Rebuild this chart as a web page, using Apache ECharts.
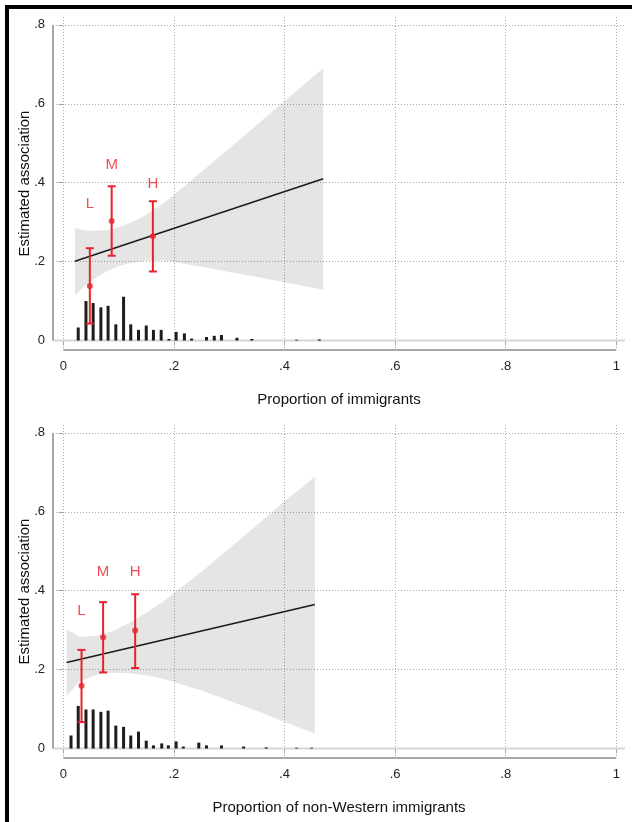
<!DOCTYPE html>
<html>
<head>
<meta charset="utf-8">
<script src="https://cdn.jsdelivr.net/npm/echarts@6/dist/echarts.min.js"></script>
<style>
  html, body { margin: 0; padding: 0; background: #fff; }
  #chart { width: 632px; height: 822px; }
  .frame { position: absolute; left: 5px; top: 5px; right: 0; bottom: 0;
           border-left: 4px solid #000; border-top: 4px solid #000; pointer-events: none; }
</style>
</head>
<body>
<div id="chart"></div>
<div class="frame"></div>
<script>
// 刻度
const xTicks = [0, 0.2, 0.4, 0.6, 0.8, 1];
const yTicks = [0, 0.2, 0.4, 0.6, 0.8];
const groupNames = ['L', 'M', 'H'];

// 上图: Proportion of immigrants
const histX1 = [0.027, 0.041, 0.054, 0.068, 0.081, 0.095, 0.109, 0.122, 0.136, 0.150, 0.163, 0.177, 0.191, 0.204, 0.219, 0.232, 0.259, 0.273, 0.286, 0.314, 0.341, 0.422, 0.463];
const histY1 = [0.033, 0.100, 0.095, 0.084, 0.088, 0.041, 0.111, 0.041, 0.027, 0.038, 0.027, 0.027, 0.004, 0.022, 0.018, 0.005, 0.009, 0.012, 0.014, 0.007, 0.004, 0.002, 0.003];
const fitX1 = [0.021, 0.470];
const fitY1 = [0.201, 0.410];
const bandX1 = [0.021, 0.04, 0.06, 0.08, 0.10, 0.12, 0.14, 0.16, 0.18, 0.20, 0.25, 0.30, 0.35, 0.40, 0.47];
const bandLo1 = [0.115, 0.140, 0.160, 0.176, 0.188, 0.196, 0.201, 0.203, 0.202, 0.199, 0.187, 0.174, 0.161, 0.148, 0.129];
const bandHi1 = [0.285, 0.279, 0.278, 0.280, 0.287, 0.298, 0.311, 0.328, 0.347, 0.369, 0.428, 0.487, 0.547, 0.607, 0.691];
const groupX1 = [0.048, 0.0875, 0.162];
const groupEst1 = [0.138, 0.303, 0.264];
const groupLo1 = [0.043, 0.215, 0.175];
const groupHi1 = [0.234, 0.391, 0.353];
const labelY1 = [0.347, 0.446, 0.397];

// 下图: Proportion of non-Western immigrants
const histX2 = [0.014, 0.027, 0.041, 0.054, 0.068, 0.081, 0.095, 0.109, 0.122, 0.136, 0.150, 0.163, 0.178, 0.190, 0.204, 0.217, 0.245, 0.259, 0.286, 0.326, 0.367, 0.422, 0.449];
const histY2 = [0.033, 0.108, 0.099, 0.099, 0.093, 0.096, 0.058, 0.055, 0.033, 0.043, 0.020, 0.008, 0.013, 0.008, 0.018, 0.005, 0.015, 0.008, 0.008, 0.005, 0.003, 0.002, 0.002];
const fitX2 = [0.006, 0.455];
const fitY2 = [0.218, 0.365];
const bandX2 = [0.006, 0.03, 0.06, 0.09, 0.12, 0.15, 0.18, 0.21, 0.25, 0.30, 0.35, 0.40, 0.455];
const bandLo2 = [0.133, 0.170, 0.187, 0.192, 0.191, 0.186, 0.177, 0.164, 0.147, 0.121, 0.095, 0.067, 0.038];
const bandHi2 = [0.302, 0.283, 0.286, 0.298, 0.319, 0.344, 0.372, 0.405, 0.448, 0.507, 0.566, 0.627, 0.689];
const groupX2 = [0.033, 0.072, 0.130];
const groupEst2 = [0.159, 0.282, 0.299];
const groupLo2 = [0.067, 0.193, 0.204];
const groupHi2 = [0.250, 0.371, 0.391];
const labelY2 = [0.348, 0.448, 0.448];

(function () {
  const myChart = echarts.init(document.getElementById('chart'));
  const FONT = '"Liberation Sans", Arial, sans-serif';
  const RED = '#e8222a';
  const X_MIN = -0.0186, X_MAX = 1.0157;
  const Y_MIN = -0.024, Y_MAX = 0.82;

  // 0 -> "0", 0.2 -> ".2", 1 -> "1"
  function fmt(v) {
    const s = String(+(+v).toFixed(2));
    return s.replace(/^0\./, '.');
  }

  function makeX(i, name) {
    return {
      type: 'value', gridIndex: i, min: X_MIN, max: X_MAX,
      name: name, nameLocation: 'middle', nameGap: 42, nameMoveOverlap: false,
      nameTextStyle: { fontSize: 15, color: '#111', fontFamily: FONT },
      axisLine: { show: false },
      axisTick: { show: true, length: 5, customValues: xTicks, lineStyle: { color: '#a6a6a6', width: 1 } },
      axisLabel: { customValues: xTicks, formatter: fmt, fontSize: 13, color: '#222', fontFamily: FONT, margin: 10 },
      splitLine: { show: true, lineStyle: { color: '#a8a8a8', type: [1, 2], width: 1 } }
    };
  }
  function makeY(i) {
    return {
      type: 'value', gridIndex: i, min: Y_MIN, max: Y_MAX,
      name: 'Estimated association', nameLocation: 'middle', nameGap: 21, nameMoveOverlap: false,
      nameTextStyle: { fontSize: 15, color: '#111', fontFamily: FONT },
      axisLine: { show: false },
      axisTick: { show: true, length: 5, customValues: yTicks, lineStyle: { color: '#a6a6a6', width: 1 } },
      axisLabel: { customValues: yTicks, formatter: fmt, fontSize: 13, color: '#222', fontFamily: FONT, margin: 8 },
      splitLine: { show: true, lineStyle: { color: '#a8a8a8', type: [1, 2], width: 1 } }
    };
  }

  function bandRenderer(xs, lo, hi) {
    return function (params, api) {
      if (params.dataIndex !== 0) return null;
      const pts = [];
      xs.forEach((x, k) => pts.push(api.coord([x, hi[k]])));
      for (let k = xs.length - 1; k >= 0; k--) pts.push(api.coord([xs[k], lo[k]]));
      return { type: 'polygon', shape: { points: pts }, style: { fill: 'rgba(0,0,0,0.1)' } };
    };
  }

  function errorBar(params, api) {
    const x = api.value(0);
    const lo = api.coord([x, api.value(1)]);
    const hi = api.coord([x, api.value(2)]);
    const cap = 4;
    const style = { stroke: RED, lineWidth: 2 };
    return {
      type: 'group',
      children: [
        { type: 'line', shape: { x1: lo[0], y1: lo[1], x2: hi[0], y2: hi[1] }, style: style },
        { type: 'line', shape: { x1: lo[0] - cap, y1: lo[1], x2: lo[0] + cap, y2: lo[1] }, style: style },
        { type: 'line', shape: { x1: hi[0] - cap, y1: hi[1], x2: hi[0] + cap, y2: hi[1] }, style: style }
      ]
    };
  }

  function panelSeries(i, d) {
    const ax = { xAxisIndex: i, yAxisIndex: i };
    return [
      // 0 基线
      Object.assign({ type: 'line', data: [[X_MIN, 0], [X_MAX, 0]], symbol: 'none', silent: true, z: 1,
        lineStyle: { color: '#d6d6d6', width: 2 } }, ax),
      // 坐标轴线 (只画 0..1 和 0..0.8)
      Object.assign({ type: 'line', data: [[0, Y_MIN], [1, Y_MIN]], symbol: 'none', silent: true, clip: false, z: 1,
        lineStyle: { color: '#a8a8a8', width: 2 } }, ax),
      Object.assign({ type: 'line', data: [[X_MIN, 0], [X_MIN, 0.8]], symbol: 'none', silent: true, clip: false, z: 1,
        lineStyle: { color: '#a8a8a8', width: 2 } }, ax),
      // 置信带
      Object.assign({ type: 'custom', renderItem: bandRenderer(d.bandX, d.bandLo, d.bandHi),
        data: d.bandX.map((x, k) => [x, d.bandLo[k], d.bandHi[k]]), encode: { x: 0, y: [1, 2] }, silent: true, z: 2 }, ax),
      // 直方图
      Object.assign({ type: 'bar', data: d.histX.map((x, k) => [x, d.histY[k]]), barWidth: 3,
        itemStyle: { color: '#1c1c1c' }, silent: true, z: 3 }, ax),
      // 拟合线
      Object.assign({ type: 'line', data: d.fitX.map((x, k) => [x, d.fitY[k]]), symbol: 'none', silent: true, z: 4,
        lineStyle: { color: '#1a1a1a', width: 1.4 } }, ax),
      // 误差线
      Object.assign({ type: 'custom', renderItem: errorBar,
        data: d.gX.map((x, k) => [x, d.gLo[k], d.gHi[k]]), encode: { x: 0, y: [1, 2] }, silent: true, z: 5 }, ax),
      // 点估计
      Object.assign({ type: 'scatter', data: d.gX.map((x, k) => [x, d.gEst[k]]), symbolSize: 6,
        itemStyle: { color: RED }, silent: true, z: 6 }, ax),
      // L / M / H 标签
      Object.assign({ type: 'scatter', data: d.gX.map((x, k) => [x, d.lblY[k], groupNames[k]]), symbolSize: 0,
        silent: true, z: 6,
        label: { show: true, position: 'inside', formatter: p => p.data[2], color: RED, fontSize: 15, fontFamily: FONT } }, ax)
    ];
  }

  const option = {
    animation: false,
    backgroundColor: '#fff',
    grid: [
      { left: 53, top: 17, width: 572, height: 333 },
      { left: 53, top: 425, width: 572, height: 333 }
    ],
    xAxis: [makeX(0, 'Proportion of immigrants'), makeX(1, 'Proportion of non-Western immigrants')],
    yAxis: [makeY(0), makeY(1)],
    series: panelSeries(0, {
      histX: histX1, histY: histY1, fitX: fitX1, fitY: fitY1,
      bandX: bandX1, bandLo: bandLo1, bandHi: bandHi1,
      gX: groupX1, gEst: groupEst1, gLo: groupLo1, gHi: groupHi1, lblY: labelY1
    }).concat(panelSeries(1, {
      histX: histX2, histY: histY2, fitX: fitX2, fitY: fitY2,
      bandX: bandX2, bandLo: bandLo2, bandHi: bandHi2,
      gX: groupX2, gEst: groupEst2, gLo: groupLo2, gHi: groupHi2, lblY: labelY2
    }))
  };

  myChart.setOption(option);
  window.addEventListener('resize', function () { myChart.resize(); });
})();
</script>
</body>
</html>
